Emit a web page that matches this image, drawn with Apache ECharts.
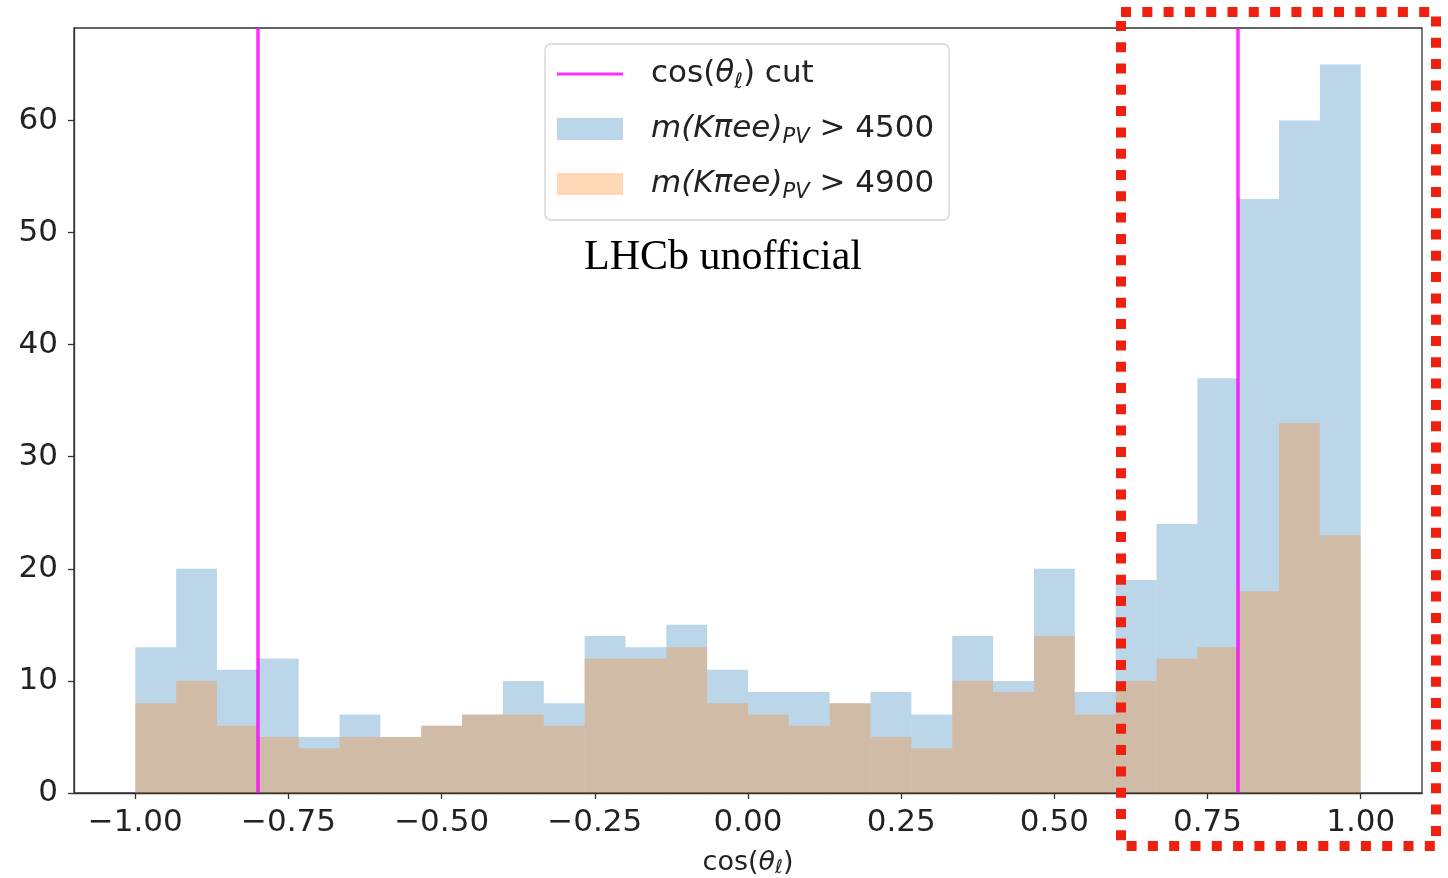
<!DOCTYPE html>
<html>
<head>
<meta charset="utf-8">
<script src="https://cdn.jsdelivr.net/npm/echarts@6/dist/echarts.min.js"></script>
<style>
html,body{margin:0;padding:0;background:#fff;}
#chart{width:1448px;height:878px;}
</style>
</head>
<body>
<div id="chart"></div>
<script>
// ---- data ----
const BIN_MIN = -1.0;
const BIN_MAX = 1.0;
const N_BINS = 30;
const countsMass4500 = [13,20,11,12,5,7,5,6,7,10,8,14,13,15,11,9,9,8,9,7,14,10,20,9,19,24,37,53,60,65];
const countsMass4900 = [8,10,6,5,4,5,5,6,7,7,6,12,12,13,8,7,6,8,5,4,10,9,14,7,10,12,13,18,33,23];
const cutValues = [-0.8, 0.8];
const xTicks = [-1.0,-0.75,-0.5,-0.25,0.0,0.25,0.5,0.75,1.0];
const yTicks = [0,10,20,30,40,50,60];
const X_RANGE = [-1.1, 1.1];
const Y_RANGE = [0, 68.25];

const NAME_CUT = 'cos(θℓ) cut';
const NAME_4500 = 'm(Kπee)PV > 4500';
const NAME_4900 = 'm(Kπee)PV > 4900';

function binData(counts){
  const w = (BIN_MAX - BIN_MIN) / N_BINS;
  return counts.map((c,i)=>[BIN_MIN + i*w, BIN_MIN + (i+1)*w, c]);
}

function histItem(fill){
  return function(params, api){
    const p0 = api.coord([api.value(0), api.value(2)]);
    const p1 = api.coord([api.value(1), 0]);
    return {
      type:'rect',
      shape:{x:p0[0], y:p0[1], width:p1[0]-p0[0], height:p1[1]-p0[1]},
      style:{fill:fill}
    };
  };
}

const FONT = 'DejaVu Sans';
const TXT = '#222';
const BLUE = 'rgba(31,119,180,0.3)';
const ORANGE = 'rgba(255,127,14,0.3)';
const MAGENTA = 'rgba(255,0,255,0.82)';

const chart = echarts.init(document.getElementById('chart'), null, {renderer:'canvas'});

const FS = 31;
const legendRich = {
  sp:{width:23, fontSize:FS, lineHeight:36},
  r:{fontSize:FS, fontFamily:FONT, color:TXT, lineHeight:36},
  i:{fontSize:FS, fontFamily:FONT, color:TXT, fontStyle:'italic', lineHeight:36},
  sub:{fontSize:21, fontFamily:FONT, color:TXT, fontStyle:'italic', lineHeight:19, padding:[17,0,0,0]}
};
const legendLabels = {};
legendLabels[NAME_CUT] = '{sp| }{r|cos(}{i|θ}{sub|ℓ}{r|) cut}';
legendLabels[NAME_4500] = '{sp| }{i|m(Kπee)}{sub|PV}{r| > 4500}';
legendLabels[NAME_4900] = '{sp| }{i|m(Kπee)}{sub|PV}{r| > 4900}';

// thin horizontal stripe centred in a 66x22 box (degenerate corner points fix the bounding box)
const LINE_ICON = 'path://M0,0L0,0ZM0,9.5L66,9.5L66,12.5L0,12.5ZM66,22L66,22Z';

const option = {
  animation:false,
  backgroundColor:'#fff',
  grid:{left:74, right:26, top:28, bottom:85, show:true, borderColor:'#333', borderWidth:1.3,
    backgroundColor:'transparent', containLabel:false, outerBoundsMode:'none'},
  xAxis:{
    type:'value', min:X_RANGE[0], max:X_RANGE[1],
    name:'{r|cos(}{i|θ}{s|ℓ}{r|)}',
    nameLocation:'middle', nameGap:54,
    nameTextStyle:{rich:{
      r:{fontSize:27, fontFamily:FONT, color:TXT},
      i:{fontSize:27, fontFamily:FONT, color:TXT, fontStyle:'italic'},
      s:{fontSize:19, fontFamily:FONT, color:TXT, fontStyle:'italic', padding:[12,0,0,0]}
    }},
    axisLine:{show:true, onZero:false, lineStyle:{color:'#333', width:1.3}},
    axisTick:{show:true, length:6, customValues:xTicks, lineStyle:{color:'#333', width:1.3}},
    axisLabel:{customValues:xTicks, margin:14, fontSize:FS, fontFamily:FONT, color:TXT,
      formatter:v=> (v<0?'\u2212':'') + Math.abs(v).toFixed(2)},
    splitLine:{show:false}
  },
  yAxis:{
    type:'value', min:Y_RANGE[0], max:Y_RANGE[1],
    axisLine:{show:true, onZero:false, lineStyle:{color:'#333', width:1.3}},
    axisTick:{show:true, length:6, customValues:yTicks, lineStyle:{color:'#333', width:1.3}},
    axisLabel:{customValues:yTicks, margin:16, fontSize:FS, fontFamily:FONT, color:TXT},
    splitLine:{show:false}
  },
  legend:{
    orient:'vertical', left:545, top:44,
    padding:[11,15,17,12], itemGap:17, itemWidth:66, itemHeight:22,
    backgroundColor:'rgba(255,255,255,0.8)', borderColor:'#d3d3d3', borderWidth:1.3, borderRadius:6,
    data:[{name:NAME_CUT, icon:LINE_ICON}, {name:NAME_4500, icon:'rect'}, {name:NAME_4900, icon:'rect'}],
    formatter:name=>legendLabels[name],
    textStyle:{rich:legendRich},
    selectedMode:false
  },
  series:[
    {
      name:NAME_4500, type:'custom', renderItem:histItem(BLUE),
      itemStyle:{color:BLUE}, encode:{x:[0,1], y:2},
      data:binData(countsMass4500), z:2
    },
    {
      name:NAME_4900, type:'custom', renderItem:histItem(ORANGE),
      itemStyle:{color:ORANGE}, encode:{x:[0,1], y:2},
      data:binData(countsMass4900), z:3
    },
    {
      name:NAME_CUT, type:'line', data:[], symbol:'none', showSymbol:false,
      itemStyle:{color:MAGENTA}, lineStyle:{color:MAGENTA, width:3.5},
      z:4,
      markLine:{
        silent:true, symbol:['none','none'], animation:false,
        label:{show:false},
        lineStyle:{color:MAGENTA, width:3.5, type:'solid'},
        data:cutValues.map(v=>({xAxis:v}))
      }
    }
  ],
  graphic:[
    {type:'text', z:10, x:723, y:258,
      style:{text:'LHCb unofficial', font:'42px "Liberation Serif"', fill:'#000', align:'center', verticalAlign:'middle'}},
    {type:'rect', z:20,
      shape:{x:1121, y:12, width:315, height:834},
      style:{fill:null, stroke:'#f02010', lineWidth:10, lineDash:[10,11.3]}}
  ]
};
chart.setOption(option);
</script>
</body>
</html>
